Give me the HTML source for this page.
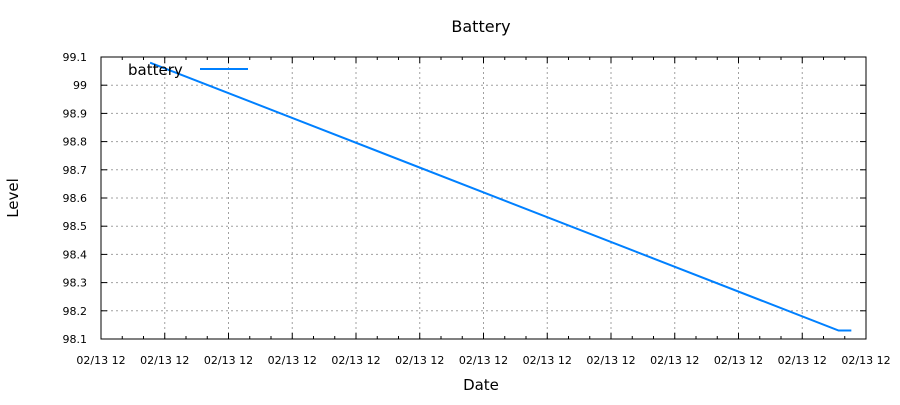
<!DOCTYPE html>
<html><head><meta charset="utf-8"><style>
body{margin:0;background:#fff}
svg text{font-family:"DejaVu Sans","Liberation Sans",sans-serif;fill:#000}
</style></head><body>
<svg width="900" height="400" xmlns="http://www.w3.org/2000/svg">
<rect width="900" height="400" fill="#fff"/>
<g id="grid"></g><g id="axes"></g><g id="series"></g>
<text x="481" y="32" font-size="16" text-anchor="middle">Battery</text>
<text x="481" y="390" font-size="15" text-anchor="middle">Date</text>
<text x="0" y="0" font-size="15" text-anchor="middle" transform="translate(18,198) rotate(-90)">Level</text>
<g>
<text x="128" y="75" font-size="15">battery</text>
<line x1="200" y1="69" x2="248" y2="69" stroke="#0080ff" stroke-width="2"/>
</g>
</svg>
<script>
const yTicks=[98.1,98.2,98.3,98.4,98.5,98.6,98.7,98.8,98.9,99,99.1];
const yTickLabels=["98.1","98.2","98.3","98.4","98.5","98.6","98.7","98.8","98.9","99","99.1"];
const xTicks=[0,1,2,3,4,5,6,7,8,9,10,11,12];
const xTickLabels=["02/13 12","02/13 12","02/13 12","02/13 12","02/13 12","02/13 12","02/13 12","02/13 12","02/13 12","02/13 12","02/13 12","02/13 12","02/13 12"];
const times=[0.77,11.57,11.77];
const levels=[99.08,98.13,98.13];
const L=101,R=866,T=57,B=339;
const xs=v=>L+(v-0)/(12-0)*(R-L);
const ys=v=>B-(v-98.1)/(99.1-98.1)*(B-T);
const NS="http://www.w3.org/2000/svg";
function mk(tag,attrs,parent){const e=document.createElementNS(NS,tag);for(const k in attrs)e.setAttribute(k,attrs[k]);parent.appendChild(e);return e;}
const grid=document.getElementById('grid'),axes=document.getElementById('axes'),series=document.getElementById('series');
yTicks.forEach((v,i)=>{const y=ys(v);
 if(i>0&&i<yTicks.length-1){const g=mk('line',{x1:L,x2:R,y1:y,y2:y,stroke:'#a0a0a0','stroke-dasharray':'2,3'},grid);
 
 }
 mk('line',{x1:L,x2:L+6,y1:y,y2:y,stroke:'#000'},axes);
 mk('line',{x1:R,x2:R-6,y1:y,y2:y,stroke:'#000'},axes);
 const t=mk('text',{x:87,y:y+4,'font-size':11,'text-anchor':'end'},axes);t.textContent=yTickLabels[i];
 
 
});
xTicks.forEach((v,i)=>{const x=xs(v);
 if(i>0&&i<xTicks.length-1){const g=mk('line',{x1:x,x2:x,y1:T,y2:B,stroke:'#a0a0a0','stroke-dasharray':'2,3'},grid);
 
 }
 mk('line',{x1:x,x2:x,y1:B,y2:B-6,stroke:'#000'},axes);
 mk('line',{x1:x,x2:x,y1:T,y2:T+6,stroke:'#000'},axes);
 if(i<xTicks.length-1){for(let k=1;k<3;k++){const mx=xs(v+k/3);
  mk('line',{x1:mx,x2:mx,y1:B,y2:B-3,stroke:'#000'},axes);
  mk('line',{x1:mx,x2:mx,y1:T,y2:T+3,stroke:'#000'},axes);}}
 const t=mk('text',{x:x,y:364,'font-size':11,'text-anchor':'middle'},axes);t.textContent=xTickLabels[i];
 
 
});
const frame=mk('rect',{x:L,y:T,width:R-L,height:B-T,fill:'none',stroke:'#000'},axes);


const line=mk('polyline',{points:times.map((t,i)=>xs(t)+','+ys(levels[i])).join(' '),fill:'none',stroke:'#0080ff','stroke-width':2},series);


</script>
</body></html>
